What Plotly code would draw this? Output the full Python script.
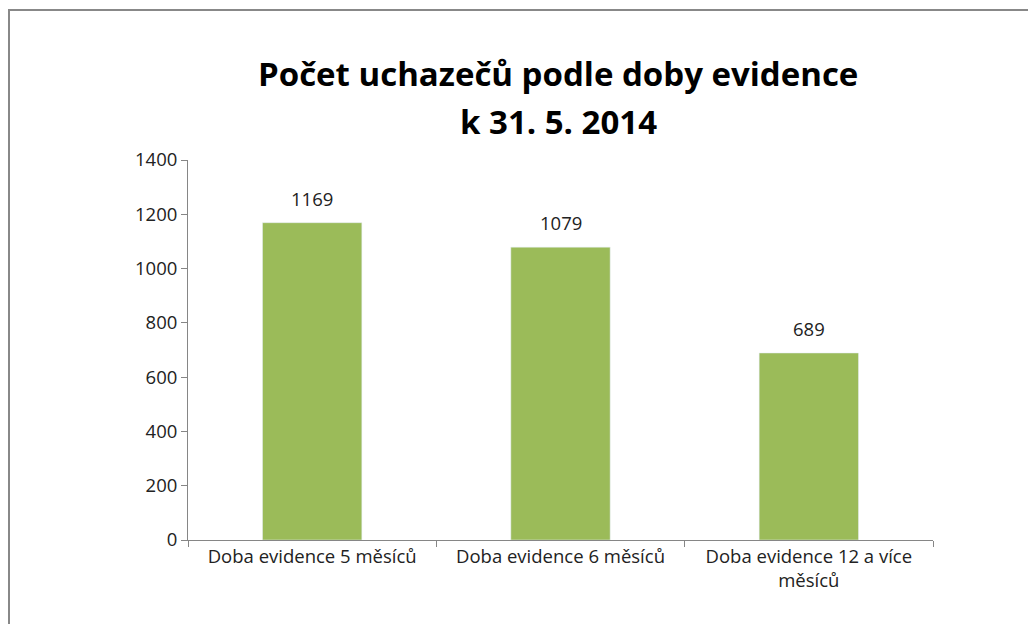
import plotly.graph_objects as go

categories = ["Doba evidence 5 měsíců", "Doba evidence 6 měsíců", "Doba evidence 12 a více<br>měsíců"]
values = [1169, 1079, 689]
y_ticks = [0, 200, 400, 600, 800, 1000, 1200, 1400]
title_lines = ["Počet uchazečů podle doby evidence", "k 31. 5. 2014"]

W, H = 1028, 624
L, R, T, B = 188, 933, 160, 540
pw, ph = R - L, B - T

def px(x):
    return (x - L) / pw

def py(y):
    return (B - y) / ph

font_fam = "Open Sans, Liberation Sans, sans-serif"

fig = go.Figure(go.Bar(
    x=categories, y=values, marker_color="#9BBB59", width=0.4,
))

annotations = [
    dict(x=c, y=v, xref="x", yref="y", text=str(v), showarrow=False,
         yanchor="bottom", yshift=10, font=dict(size=18.5, color="#222", family=font_fam))
    for c, v in zip(categories, values)
]
for line, yc in zip(title_lines, [73, 122]):
    annotations.append(dict(x=px(558), y=py(yc), xref="paper", yref="paper", text="<b>" + line + "</b>",
                            showarrow=False, xanchor="center", yanchor="middle",
                            font=dict(size=33, color="#000", family=font_fam)))

fig.update_layout(
    width=W, height=H,
    margin=dict(l=L, r=W - R, t=T, b=H - B, autoexpand=False),
    paper_bgcolor="white", plot_bgcolor="white",
    showlegend=False,
    annotations=annotations,
    xaxis=dict(showline=True, linecolor="#868686", linewidth=1, ticks="outside",
               tickson="boundaries", ticklen=6, tickcolor="#868686",
               tickfont=dict(size=18.5, color="#222", family=font_fam)),
    yaxis=dict(range=[0, 1400], tickvals=y_ticks, showline=True, linecolor="#868686",
               linewidth=1, ticks="outside", ticklen=6, tickcolor="#868686",
               showgrid=False, zeroline=False,
               tickfont=dict(size=18.5, color="#222", family=font_fam)),
    bargap=0.6,
    shapes=[
        dict(type="line", xref="paper", yref="paper", x0=px(9), x1=px(9),
             y0=py(9), y1=py(H), line=dict(color="#888", width=2)),
        dict(type="line", xref="paper", yref="paper", x0=px(8), x1=px(W),
             y0=py(10), y1=py(10), line=dict(color="#888", width=2)),
    ],
)

fig.write_html("out.html", config={"displayModeBar": False},
               post_script="document.documentElement.style.overflow='hidden';document.body.style.margin='0';document.body.style.overflow='hidden';")
